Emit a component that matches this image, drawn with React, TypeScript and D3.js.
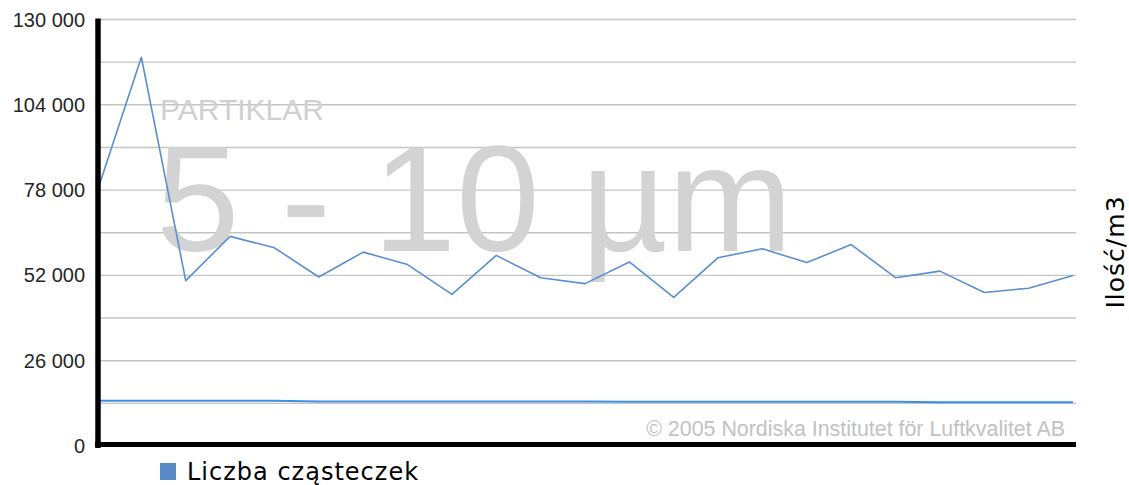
import React from "react";
import * as d3 from "d3";

const categories = ["1","2","3","4","5","6","7","8","9","10","11","12","13","14","15","16","17","18","19","20","21","22","23"];
const particleCounts = [77400, 118500, 50400, 63900, 60400, 51500, 59100, 55300, 46200, 58100, 51300, 49500, 56100, 45300, 57400, 60100, 55900, 61400, 51300, 53300, 46800, 48100, 52000];
const baselineCounts = [13800, 13800, 13800, 13800, 13800, 13550, 13550, 13550, 13550, 13550, 13550, 13550, 13450, 13450, 13450, 13450, 13450, 13450, 13450, 13350, 13350, 13350, 13350];
const yTickValues = [0, 26000, 52000, 78000, 104000, 130000];
const gridValues = [0, 13000, 26000, 39000, 52000, 65000, 78000, 91000, 104000, 117000, 130000];
const legendLabel = "Liczba cząsteczek";
const axisTitle = "Ilość/m3";
const watermarkSmall = "PARTIKLAR";
const watermarkBig = "5 - 10 µm";
const copyright = "© 2005 Nordiska Institutet för Luftkvalitet AB";

const W = 1129;
const H = 485;
const left = 98;
const right = 1076;
const top = 19.5;
const bottom = 446;

const locale = d3.formatLocale({ decimal: ",", thousands: " ", grouping: [3], currency: ["", ""] });
const fmt = locale.format(",d");

export default function App() {
  const x = d3.scalePoint<string>().domain(categories).range([left - 1, right - 3]);
  const y = d3.scaleLinear().domain([0, 130000]).range([bottom, top]);
  const line = d3.line<number>().x((_, i) => x(categories[i]) as number).y((d) => y(d));
  const arial = "'Liberation Sans', Arial, sans-serif";
  return (
    <svg width={W} height={H} style={{ position: "absolute", left: 0, top: 0, display: "block" }}>
      <rect width={W} height={H} fill="#ffffff" />
      {gridValues.map((v) => (
        <line key={v} x1={left + 2} x2={right} y1={y(v)} y2={y(v)} stroke="#c4c4c4" strokeWidth={1.4} />
      ))}
      <text x={160} y={120} fontFamily={arial} fontSize={30} fill="#d0d0d0">{watermarkSmall}</text>
      <text x={156} y={251} fontFamily={arial} fontSize={150} fill="#d3d3d3">{watermarkBig}</text>
      <text x={1065} y={436} textAnchor="end" fontFamily={arial} fontSize={21.4} fill="#c2c2c2">{copyright}</text>
      <path d={line(baselineCounts) || ""} fill="none" stroke="#3d8fe8" strokeWidth={2} />
      <path d={line(particleCounts) || ""} fill="none" stroke="#5b8ecf" strokeWidth={1.6} strokeLinejoin="round" />
      <line x1={left} x2={left} y1={top - 1} y2={bottom + 2} stroke="#000" strokeWidth={5.5} />
      <line x1={left - 3} x2={right} y1={bottom - 1.5} y2={bottom - 1.5} stroke="#000" strokeWidth={5} />
      {yTickValues.map((v) => (
        <text key={v} x={85} y={y(v)} dy="0.35em" textAnchor="end" fontFamily={arial} fontSize={20} fill="#262626">{fmt(v)}</text>
      ))}
      <text transform={`translate(1124, 252) rotate(-90)`} textAnchor="middle" fontFamily="'DejaVu Sans', sans-serif" fontSize={25} letterSpacing={1} fill="#000">{axisTitle}</text>
      <rect x={160} y={463} width={16} height={17} fill="#5a8ac6" />
      <text x={187} y={480} fontFamily="'DejaVu Sans', sans-serif" fontSize={24} letterSpacing={1} fill="#000">{legendLabel}</text>
    </svg>
  );
}
